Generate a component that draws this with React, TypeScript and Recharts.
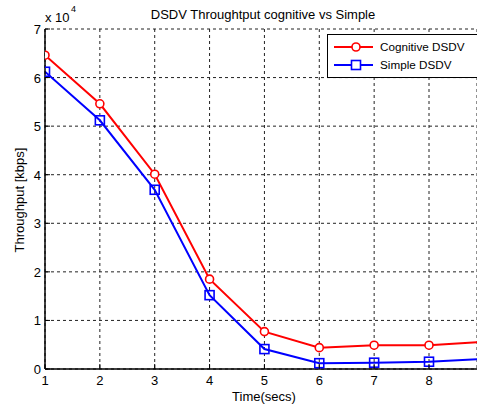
import { LineChart, Line, XAxis, YAxis, CartesianGrid, Legend } from "recharts";

// x values (secs); last point lies just past the cropped right edge
const times = [1, 2, 3, 4, 5, 6, 7, 8, 9];
// throughput in units of 10^4 kbps
const cognitive = [6.46, 5.46, 4.01, 1.85, 0.77, 0.44, 0.49, 0.49, 0.56];
const simple = [6.12, 5.12, 3.69, 1.52, 0.41, 0.12, 0.13, 0.15, 0.21];
const xTicks = [1, 2, 3, 4, 5, 6, 7, 8];
const yTicks = [0, 1, 2, 3, 4, 5, 6, 7];

const data = times.map((t, i) => ({ t, cognitive: cognitive[i], simple: simple[i] }));

const FONT = "'Liberation Sans', Arial, sans-serif";
const RED = "#ff0000";
const BLUE = "#0000ff";

const SquareDot = (props: any) => {
  const { cx, cy, index } = props;
  if (cx == null || cy == null) return <g key={index} />;
  return (
    <rect
      key={index}
      x={cx - 4.5}
      y={cy - 4.5}
      width={9}
      height={9}
      fill="none"
      stroke={BLUE}
      strokeWidth={1.6}
    />
  );
};

// matlab style: short inward tick + label
const XTick = (props: any) => {
  const { x, y, payload } = props;
  return (
    <g>
      <line x1={x} x2={x} y1={y} y2={y - 5} stroke="#000" strokeWidth={1} />
      <text x={x} y={y + 16} textAnchor="middle" fontSize={13} fontFamily={FONT} fill="#000">
        {payload.value}
      </text>
    </g>
  );
};

const YTick = (props: any) => {
  const { x, y, payload } = props;
  return (
    <g>
      <line x1={x} x2={x + 5} y1={y} y2={y} stroke="#000" strokeWidth={1} />
      <text x={x - 4} y={y + 5} textAnchor="end" fontSize={13} fontFamily={FONT} fill="#000">
        {payload.value}
      </text>
    </g>
  );
};

const LegendBox = () => (
  <div
    style={{
      width: 160,
      height: 42,
      border: "1px solid #000",
      background: "#fff",
      fontFamily: FONT,
      color: "#000",
    }}
  >
    <svg width={160} height={42} style={{ display: "block" }}>
      <line x1={6} x2={45} y1={12} y2={12} stroke={RED} strokeWidth={2} />
      <circle cx={28} cy={12} r={4} fill="#fff" stroke={RED} strokeWidth={1.6} />
      <text x={52} y={16} fontFamily={FONT} fontSize={11.7}>Cognitive DSDV</text>
      <line x1={6} x2={45} y1={30} y2={30} stroke={BLUE} strokeWidth={2} />
      <rect x={23.5} y={25.5} width={9} height={9} fill="#fff" stroke={BLUE} strokeWidth={1.6} />
      <text x={52} y={34} fontFamily={FONT} fontSize={11.7}>Simple DSDV</text>
    </svg>
  </div>
);

export default function App() {
  return (
    <div style={{ position: "absolute", left: 0, top: 0, width: 477, height: 405, background: "#fff", overflow: "hidden" }}>
      <LineChart
        width={477}
        height={405}
        data={data}
        margin={{ top: 29, right: 0, bottom: 0, left: 0 }}
      >
        <CartesianGrid stroke="#222" strokeDasharray="3 3" />
        <XAxis
          dataKey="t"
          type="number"
          domain={[1, 8.875]}
          ticks={xTicks}
          allowDataOverflow
          tickLine={false}
          tickSize={0}
          tickMargin={0}
          axisLine={{ stroke: "#000", strokeWidth: 1.5 }}
          tick={<XTick />}
          height={36}
        />
        <YAxis
          type="number"
          domain={[0, 7]}
          ticks={yTicks}
          allowDataOverflow
          tickLine={false}
          tickSize={0}
          tickMargin={0}
          width={45}
          axisLine={{ stroke: "#000", strokeWidth: 1.5 }}
          tick={<YTick />}
        />
        <Legend
          content={<LegendBox />}
          layout="horizontal"
          verticalAlign="middle"
          align="center"
          wrapperStyle={{ position: "absolute", left: 327, top: 34, width: 160, height: 44 }}
        />
        <Line
          dataKey="cognitive"
          stroke={RED}
          strokeWidth={2}
          dot={{ r: 4, fill: "#fff", stroke: RED, strokeWidth: 1.6 }}
          isAnimationActive={false}
        />
        <Line
          dataKey="simple"
          stroke={BLUE}
          strokeWidth={2}
          dot={SquareDot}
          isAnimationActive={false}
        />
      </LineChart>
      <svg
        width={477}
        height={405}
        style={{ position: "absolute", left: 0, top: 0, pointerEvents: "none" }}
        fontFamily={FONT}
      >
        <text x={263} y={19} textAnchor="middle" fontSize={13}>DSDV Throughtput cognitive vs Simple</text>
        <text x={45} y={22} fontSize={13}>x 10</text>
        <text x={71} y={12} fontSize={9}>4</text>
        <text x={264} y={401} textAnchor="middle" fontSize={13}>Time(secs)</text>
        <text
          x={24}
          y={200}
          textAnchor="middle"
          fontSize={13}
          transform="rotate(-90 24 200)"
        >
          Throughput [kbps]
        </text>
      </svg>
    </div>
  );
}
